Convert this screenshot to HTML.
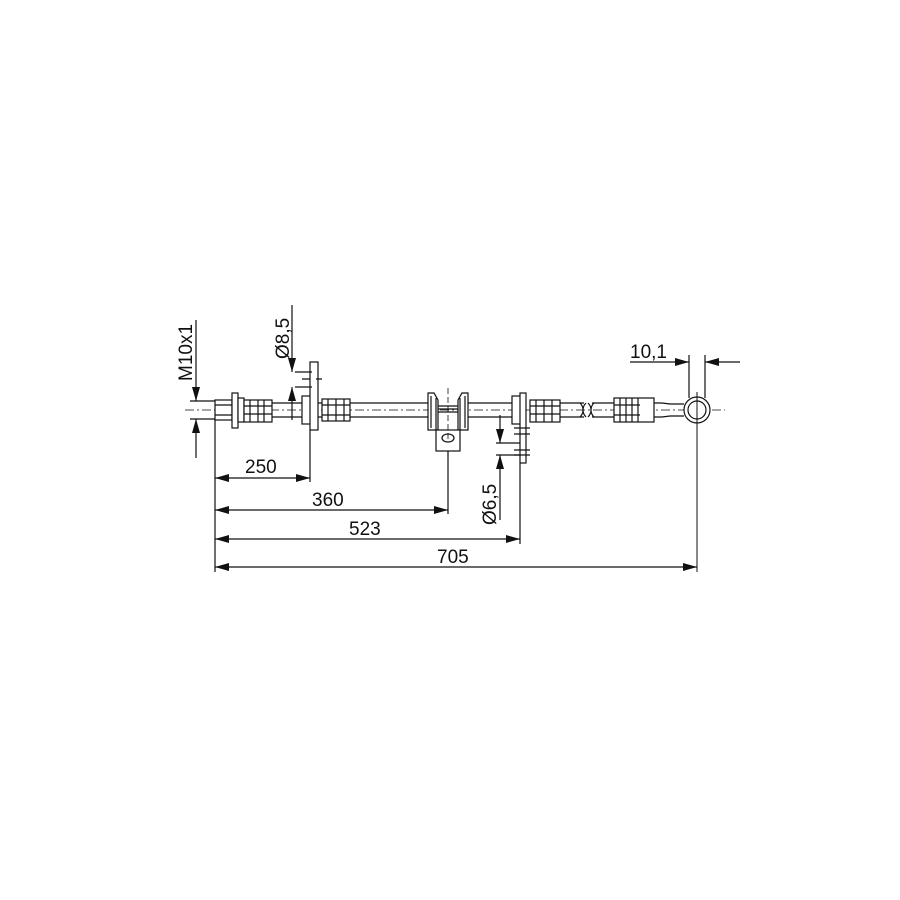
<!DOCTYPE html>
<html><head><style>
body{margin:0;background:#fff}
svg{display:block}
text{font-family:"Liberation Sans",sans-serif;font-size:19px;fill:#111}
</style></head><body>
<svg width="900" height="900" viewBox="0 0 900 900" xmlns="http://www.w3.org/2000/svg">
<defs>
<marker id="a" viewBox="0 0 14 8" refX="14" refY="4" markerWidth="14" markerHeight="8" orient="auto-start-reverse" markerUnits="userSpaceOnUse"><path d="M0,0L14,4L0,8z" fill="#111"/></marker>
</defs>
<g stroke="#111" stroke-width="1.2" fill="none">
<path d="M272,403H302 M318,403H322 M350,403H428 M468,403H512 M560,403H584 M592,403H614 M654,403H662 L670,404H684"/>
<path d="M272,417H302 M318,417H322 M350,417H428 M468,417H512 M560,417H584 M592,417H614 M654,417H662 L670,416H684"/>
<path d="M580,403c4,4 4,10 0,14 M586,403c-4,4 -4,10 0,14 M588,403c4,4 4,10 0,14 M594,403c-4,4 -4,10 0,14"/>
<path d="M185,410H725" stroke-dasharray="9,3,2,3" stroke-width="0.8"/>
<rect x="215" y="400" width="17" height="20" fill="#fff"/>
<path d="M215,405H232 M215,415H232"/>
<rect x="232" y="393" width="6" height="35" fill="#fff"/>
<rect x="238" y="398" width="6" height="24" fill="#fff"/>
<rect x="244" y="400" width="28" height="22" fill="#fff"/>
<path d="M250,400V422 M258,400V422 M264,400V422 M244,406H272 M244,414H272"/>
<rect x="302" y="396" width="9" height="28" fill="#fff"/>
<rect x="310" y="362" width="8" height="68" fill="#fff"/>
<rect x="322" y="399" width="28" height="22" fill="#fff"/>
<path d="M328,399V421 M336,399V421 M344,399V421 M322,405H350 M322,415H350"/>
<path d="M428,393H434L438,400V430H428Z M468,393H462L458,400V430H468Z" fill="#fff"/>
<path d="M431,396V428 M465,396V428"/>
<rect x="436" y="430" width="24" height="21" fill="#fff"/>
<path d="M436,430V398 M460,430V398"/>
<path d="M438,406H458 M438,409H458 M438,412H458"/>
<ellipse cx="448" cy="438" rx="6" ry="4"/>
<path d="M448,388V440" stroke-dasharray="6,3" stroke-width="0.8"/>
<rect x="512" y="396" width="9" height="28" fill="#fff"/>
<rect x="520" y="393" width="6" height="70" fill="#fff"/>
<path d="M514,428H530 M514,434H530 M514,450H530 M514,455H530"/>
<rect x="530" y="400" width="30" height="22" fill="#fff"/>
<path d="M536,400V422 M544,400V422 M552,400V422 M530,406H560 M530,414H560"/>
<rect x="614" y="398" width="40" height="24" fill="#fff"/>
<path d="M620,398V422 M626,398V422 M632,398V422 M638,398V422 M614,405H640 M614,415H640"/>
<circle cx="697" cy="410" r="13" fill="#fff"/>
<circle cx="697" cy="410" r="9"/>
<path d="M697,392V572" stroke-width="1"/>
<path d="M295,372H312 M295,387H312 M302,379H310 M316,379H322"/>
<path d="M215,420V572 M310,430V482 M520,463V544 M448,451V514"/>
<path d="M190,401H215 M190,419H215"/>
<path d="M196,320V401" marker-end="url(#a)"/>
<path d="M196,458V419" marker-end="url(#a)"/>
<path d="M292,305V372" marker-end="url(#a)"/>
<path d="M292,420V387" marker-end="url(#a)"/>
<path d="M496,443H520 M496,455H520"/>
<path d="M500,415V443" marker-end="url(#a)"/>
<path d="M500,520V455" marker-end="url(#a)"/>
<path d="M689,355V398 M705,355V398"/>
<path d="M630,362H689" marker-end="url(#a)"/>
<path d="M740,362H705" marker-end="url(#a)"/>
<path d="M215,478H310" marker-start="url(#a)" marker-end="url(#a)"/>
<path d="M215,510H448" marker-start="url(#a)" marker-end="url(#a)"/>
<path d="M215,539H520" marker-start="url(#a)" marker-end="url(#a)"/>
<path d="M215,567H697" marker-start="url(#a)" marker-end="url(#a)"/>
</g>
<text x="245" y="473">250</text>
<text x="312" y="506">360</text>
<text x="349" y="535">523</text>
<text x="437" y="563">705</text>
<text x="630" y="358">10,1</text>
<text transform="translate(192,381) rotate(-90)">M10x1</text>
<text transform="translate(289,359) rotate(-90)">Ø8,5</text>
<text transform="translate(496,525) rotate(-90)">Ø6,5</text>
</svg>
</body></html>
